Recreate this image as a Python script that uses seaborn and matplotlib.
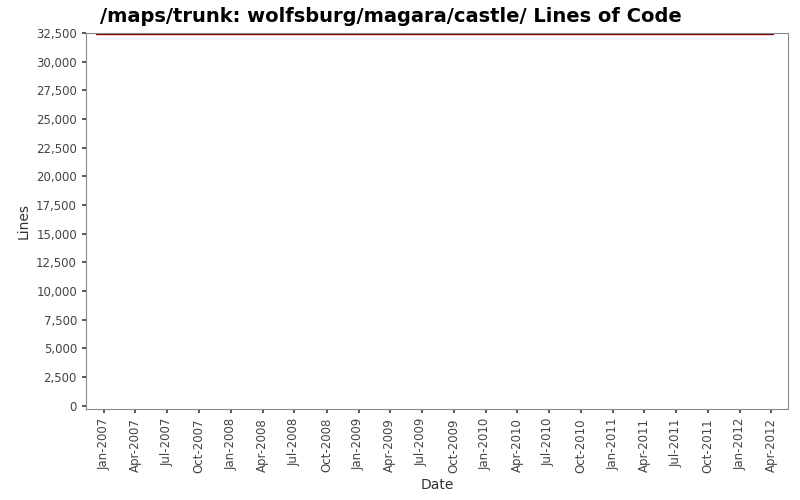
import seaborn as sns
import matplotlib.pyplot as plt
import matplotlib.dates as mdates
import pandas as pd

dates = ["2006-12-10", "2007-06-01", "2008-06-01", "2009-06-01", "2010-06-01", "2011-06-01", "2012-04-05"]
lines = [32450, 32450, 32450, 32450, 32450, 32450, 32450]

df = pd.DataFrame({"Date": pd.to_datetime(dates), "Lines": lines})

sns.set_theme(style="white")
plt.rcParams['font.family'] = ['DejaVu Sans']
fig = plt.figure(figsize=(8, 5), dpi=100)
ax = fig.add_axes([0.1075, 0.182, 0.878, 0.752])
sns.lineplot(data=df, x="Date", y="Lines", color="#800000", linewidth=1, ax=ax)

ax.set_ylim(-300, 32500)
ax.set_xlim(pd.Timestamp("2006-11-10"), pd.Timestamp("2012-05-20"))
ax.set_yticks(range(0, 32501, 2500))
ax.yaxis.set_major_formatter(plt.FuncFormatter(lambda v, p: f"{int(v):,}"))
ax.xaxis.set_major_locator(mdates.MonthLocator(bymonth=[1, 4, 7, 10]))
ax.xaxis.set_major_formatter(mdates.DateFormatter("%b-%Y"))
plt.setp(ax.get_xticklabels(), rotation=90)
ax.tick_params(axis="both", labelsize=8.5, colors="#444444", length=3, left=True, bottom=True)
for s in ax.spines.values():
    s.set_color("#888888")
    s.set_linewidth(0.8)
ax.set_xlabel("Date", fontsize=10, color="#333333")
ax.set_ylabel("Lines", fontsize=10, color="#333333")
fig.text(0.125, 0.955, "/maps/trunk: wolfsburg/magara/castle/ Lines of Code",
         fontsize=14, fontweight="bold", color="black")
fig.savefig("out.png")
